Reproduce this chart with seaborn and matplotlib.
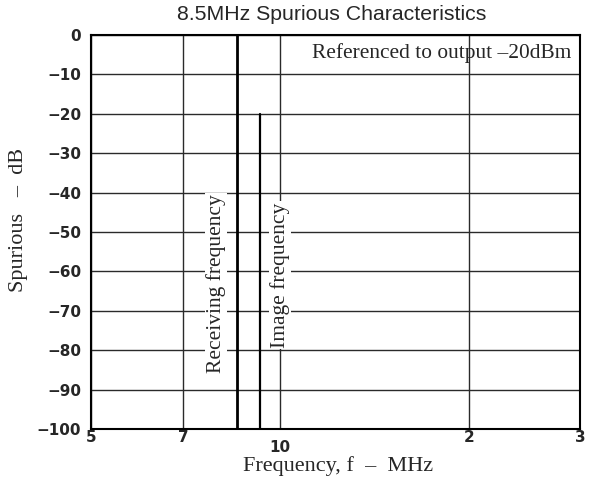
import matplotlib
matplotlib.use("Agg")
import matplotlib.pyplot as plt
import seaborn as sns
import pandas as pd

# ---- data ----
marker_names = ["Receiving frequency", "Image frequency"]
marker_freqs = [8.55, 9.3]         # MHz
marker_tops = [0, -20]             # dB
floor_level = -100
x_ticks = [5, 7, 10, 20, 30]
x_tick_labels = ["5", "7", "10", "2", "3"]
y_ticks = [0, -10, -20, -30, -40, -50, -60, -70, -80, -90, -100]
y_tick_labels = ["0", "\u221210", "\u221220", "\u221230", "\u221240", "\u221250",
                 "\u221260", "\u221270", "\u221280", "\u221290", "\u2212100"]

sns.set_theme(style="white")
plt.rcParams["font.family"] = ["DejaVu Sans"]

fig = plt.figure(figsize=(5.89, 4.82), dpi=100)
ax = fig.add_axes([91/589, 1-429/482, (580-91)/589, (429-35)/482])

rows = []
for name, f, top in zip(marker_names, marker_freqs, marker_tops):
    rows.append({"name": name, "f": f, "level": top})
    rows.append({"name": name, "f": f, "level": floor_level})
df = pd.DataFrame(rows)

widths = {"Receiving frequency": 2.0, "Image frequency": 1.6}
for name, sub in df.groupby("name", sort=False):
    sns.lineplot(data=sub, x="f", y="level", estimator=None, sort=False,
                 color="black", lw=widths[name], ax=ax, legend=False, zorder=4)

ax.set_xscale("log")
ax.set_xlim(5, 30)
ax.set_ylim(-100, 0)
ax.set_xticks(x_ticks)
ax.set_xticklabels(x_tick_labels)
ax.minorticks_off()
ax.set_yticks(y_ticks)
ax.set_yticklabels(y_tick_labels)

ax.grid(True, which="major", color="#2a2a2a", lw=1.0, zorder=1)
ax.set_axisbelow(True)
for s in ax.spines.values():
    s.set_color("black")
    s.set_linewidth(1.5)

ax.tick_params(axis="both", length=0)
ax.tick_params(axis="y", pad=7, labelsize=11)
ax.tick_params(axis="x", pad=1, labelsize=11)
for lab in ax.get_yticklabels() + ax.get_xticklabels():
    lab.set_fontweight("bold")
ax.xaxis.get_major_ticks()[2].set_pad(8)

serif = ["Liberation Serif", "DejaVu Serif"]
ax.set_xlabel("Frequency, f  \u2013  MHz", fontsize=16, family=serif, labelpad=0)
ax.set_ylabel("Spurious   \u2013  dB", fontsize=16, family=serif)
ax.xaxis.set_label_coords(0.505, -0.068)
ax.yaxis.set_label_coords(-0.128, 0.53)

fig.text(332/589, 1-15/482, "8.5MHz Spurious Characteristics", ha="center", va="center",
         fontsize=15.3, family=["Liberation Sans", "DejaVu Sans"])

ax.text(0.983, 0.955, "Referenced to output \u201320dBm", transform=ax.transAxes,
        ha="right", va="center", fontsize=15.4, family=serif, zorder=5)

ax.text(7.9, -63, "Receiving frequency", rotation=90, ha="center", va="center",
        fontsize=15.5, family=serif, zorder=5,
        bbox=dict(facecolor="white", edgecolor="none", pad=1))
ax.text(10.0, -61, "Image frequency", rotation=90, ha="center", va="center",
        fontsize=15.5, family=serif, zorder=5,
        bbox=dict(facecolor="white", edgecolor="none", pad=1))

fig.savefig("out.png", dpi=100, facecolor="white")
